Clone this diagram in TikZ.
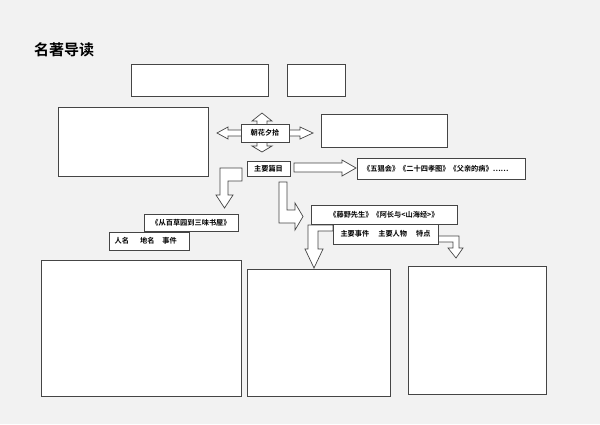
\documentclass[tikz,border=0pt]{standalone}
\usepackage{fontspec}
\newfontfamily\cjk{Noto Sans CJK SC}[BoldFont={* Bold}]
\definecolor{bg}{HTML}{F2F2F2}
\definecolor{linec}{HTML}{454545}
\begin{document}
\begin{tikzpicture}[x=1pt,y=-1pt,
  box/.style={draw=linec, fill=white, line width=0.9pt, inner sep=0pt, outer sep=0pt},
  lbl/.style={font=\cjk\bfseries\fontsize{7.2}{8}\selectfont, text=black, inner sep=0pt},
  barrow/.style={draw=linec, fill=white, line width=0.7pt, line join=miter}]
\fill[bg] (0,0) rectangle (600,424);
\useasboundingbox (0,0) rectangle (600,424);

\node[font=\cjk\bfseries\fontsize{15}{16}\selectfont, anchor=west, inner sep=0pt] (title) at (34,50) {名著导读};

% top empty boxes
\node[box, minimum width=137, minimum height=32] (t1) at (199.5,80) {};
\node[box, minimum width=58, minimum height=32] (t2) at (316,80) {};
\node[box, minimum width=150, minimum height=69] (lbox) at (133,141.5) {};
\node[box, minimum width=126, minimum height=33] (rbox) at (384,130.5) {};

% four-way arrow behind the title node
\draw[barrow] (217,133) -- (228,127) -- (228,130) -- (257,130) -- (257,121) -- (252,121) -- (262,113)
  -- (272,121) -- (267,121) -- (267,130) -- (300,130) -- (300,127) -- (313,133) -- (300,139)
  -- (300,136) -- (267,136) -- (267,146) -- (272,146) -- (262,152) -- (252,146) -- (257,146)
  -- (257,136) -- (228,136) -- (228,139) -- cycle;

\node[box, minimum width=48, minimum height=18] (chz) at (265,133) {};
\node[lbl] at (chz.center) {朝花夕拾};

\node[box, minimum width=43, minimum height=15] (zypm) at (268.5,168.5) {};
\node[lbl] at (zypm.center) {主要篇目};

% right arrow to list of essays
\draw[barrow] (294,163) -- (342,163) -- (342,160) -- (356,168) -- (342,176) -- (342,172) -- (294,172) -- cycle;
\node[box, minimum width=168, minimum height=21] (wch) at (441,168.5) {};
\node[lbl, anchor=west] at (363,168.5) {《五猖会》《二十四孝图》《父亲的病》……};

% bent arrow down-left
\draw[barrow] (242,168) -- (220,168) -- (220,195) -- (216,195) -- (224.5,208) -- (233,195)
  -- (228,195) -- (228,181) -- (242,181) -- cycle;
% bent arrow down-right
\draw[barrow] (279,182) -- (287,182) -- (287,210) -- (295,210) -- (295,203) -- (303,216.5)
  -- (295,230) -- (295,223) -- (279,223) -- cycle;

\node[box, minimum width=94, minimum height=17] (bcy) at (191,222.5) {};
\node[lbl] at (bcy.center) {《从百草园到三味书屋》};
\node[box, minimum width=80, minimum height=18] (rmdm) at (149,241) {};
\node[lbl, anchor=west] at (114.5,241) {人名\hspace{11pt}地名\hspace{8pt}事件};

% arrows from the lower small box
\draw[barrow] (333,225) -- (308,225) -- (308,249) -- (305,249) -- (314,268) -- (323,249)
  -- (318,249) -- (318,231) -- (333,231) -- cycle;
\draw[barrow] (437,236) -- (459,236) -- (459,248) -- (463,248) -- (456,258) -- (448,248)
  -- (453,248) -- (453,242) -- (437,242) -- cycle;

\node[box, minimum width=146, minimum height=19] (tyxs) at (384,214.5) {};
\node[lbl] at (tyxs.center) {《藤野先生》《阿长与<山海经>》};
\node[box, minimum width=105, minimum height=20] (zysj) at (385.5,234) {};
\node[lbl] at (zysj.center) {主要事件\hspace{9pt}主要人物\hspace{9pt}特点};

% bottom boxes
\node[box, minimum width=200, minimum height=136] (b1) at (141,328) {};
\node[box, minimum width=143, minimum height=127] (b2) at (318.5,332.5) {};
\node[box, minimum width=138, minimum height=128] (b3) at (477,330) {};
\end{tikzpicture}
\end{document}
